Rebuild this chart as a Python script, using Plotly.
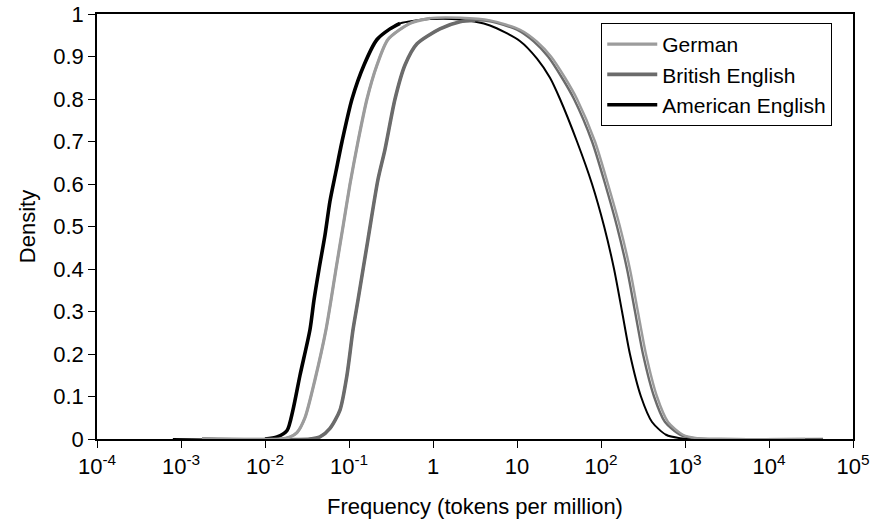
import plotly.graph_objects as go

# ---- data (frequency in tokens per million, density) ----
american_x = [0.0008, 0.0100, 0.0139, 0.0183, 0.0215, 0.0261, 0.0343, 0.0383, 0.0440, 0.0518,
              0.0594, 0.0700, 0.0826, 0.1086, 0.151, 0.2155, 0.3076, 0.405, 0.92, 2.10,
              4.77, 10.9, 17.3, 24.7, 32.5, 51.8, 78.2, 109, 143, 178,
              221, 299, 405, 594, 871, 1510, 30000]
american_y = [0.0, 0.0, 0.005, 0.02, 0.068, 0.15, 0.257, 0.327, 0.40, 0.48,
              0.56, 0.63, 0.70, 0.80, 0.88, 0.94, 0.965, 0.978, 0.988, 0.987,
              0.973, 0.936, 0.895, 0.85, 0.80, 0.70, 0.60, 0.50, 0.40, 0.30,
              0.20, 0.10, 0.04, 0.01, 0.002, 0.0, 0.0]

british_x = [0.00178, 0.0343, 0.0451, 0.0594, 0.0781, 0.0946, 0.1116, 0.128, 0.168, 0.221,
             0.268, 0.353, 0.464, 0.645, 1.21, 2.10, 3.16, 4.77, 10.0, 15.9,
             23.4, 34.3, 47.7, 78.2, 112, 155, 204, 254, 316, 428,
             578, 871, 1280, 2610, 44000]
british_y = [0.0, 0.0, 0.005, 0.025, 0.068, 0.15, 0.257, 0.327, 0.469, 0.61,
             0.681, 0.80, 0.88, 0.93, 0.965, 0.982, 0.985, 0.983, 0.963, 0.935,
             0.90, 0.85, 0.80, 0.70, 0.60, 0.50, 0.40, 0.30, 0.20, 0.10,
             0.04, 0.01, 0.002, 0.0, 0.0]

german_x = [0.00178, 0.0151, 0.0199, 0.024, 0.0299, 0.0394, 0.0532, 0.0611, 0.0700, 0.0849,
            0.1028, 0.128, 0.1637, 0.2155, 0.291, 0.532, 0.92, 2.10, 4.77, 10.9,
            17.3, 25.4, 37.3, 51.8, 84.8, 121, 168, 221, 275, 343,
            464, 628, 946, 1390, 2610, 26900]
german_y = [0.0, 0.0, 0.005, 0.015, 0.05, 0.14, 0.257, 0.327, 0.40, 0.50,
            0.60, 0.70, 0.80, 0.88, 0.94, 0.978, 0.99, 0.991, 0.985, 0.963,
            0.935, 0.90, 0.85, 0.80, 0.70, 0.60, 0.50, 0.40, 0.30, 0.20,
            0.10, 0.04, 0.01, 0.002, 0.0, 0.0]

# end of the noisy (thicker-looking) rising part of each curve
american_noisy_end = 0.405
british_noisy_end = 3.16
german_noisy_end = 0.92

x_tickvals = [1e-4, 1e-3, 1e-2, 1e-1, 1, 10, 100, 1e3, 1e4, 1e5]
x_ticktext = ["10<sup>-4</sup>", "10<sup>-3</sup>", "10<sup>-2</sup>", "10<sup>-1</sup>",
              "1", "10", "10<sup>2</sup>", "10<sup>3</sup>", "10<sup>4</sup>", "10<sup>5</sup>"]

FONT = "Liberation Sans, Arial, sans-serif"
FS = 22

series = [
    ("American English", american_x, american_y, american_noisy_end, "#000000", 2.0, 3.6),
    ("British English", british_x, british_y, british_noisy_end, "#6b6b6b", 2.4, 3.6),
    ("German", german_x, german_y, german_noisy_end, "#9c9c9c", 2.4, 3.2),
]

fig = go.Figure()
for name, xs, ys, nend, color, w_thin, w_thick in series:
    fig.add_trace(go.Scatter(x=xs, y=ys, mode="lines", showlegend=False, hoverinfo="skip",
                             line=dict(color=color, width=w_thin, shape="spline", smoothing=0.7)))
    nx = [a for a in xs if 1e-3 < a <= nend]
    ny = [b for a, b in zip(xs, ys) if 1e-3 < a <= nend]
    fig.add_trace(go.Scatter(x=nx, y=ny, mode="lines", name=name, showlegend=True,
                             line=dict(color=color, width=w_thick, shape="spline", smoothing=0.7)))

fig.update_layout(
    width=870, height=522,
    margin=dict(l=97, r=17, t=14, b=83),
    paper_bgcolor="white", plot_bgcolor="white",
    font=dict(family=FONT, size=FS, color="black"),
    showlegend=True,
    legend=dict(x=0.667, y=0.979, xanchor="left", yanchor="top",
                traceorder="reversed", bgcolor="white",
                bordercolor="black", borderwidth=1,
                font=dict(family=FONT, size=21, color="black"),
                tracegroupgap=0, itemwidth=50),
)
fig.update_xaxes(type="log", range=[-4, 5], tickvals=x_tickvals, ticktext=x_ticktext,
                 automargin=False,
                 showgrid=False, zeroline=False, showline=True, linecolor="black",
                 linewidth=1.5, mirror=True, ticks="outside", ticklen=7, tickwidth=1,
                 tickcolor="black",
                 title=dict(text="Frequency (tokens per million)", standoff=20,
                            font=dict(family=FONT, size=FS)),
                 tickfont=dict(family=FONT, size=FS))
fig.update_yaxes(range=[0, 1], dtick=0.1, tick0=0, showgrid=False, zeroline=False,
                 automargin=False,
                 showline=True, linecolor="black", linewidth=1.5, mirror=True,
                 ticks="outside", ticklen=7, tickwidth=1, tickcolor="black",
                 title=dict(text="Density", standoff=12, font=dict(family=FONT, size=FS)),
                 tickfont=dict(family=FONT, size=FS))

fig.write_html("out.html")
